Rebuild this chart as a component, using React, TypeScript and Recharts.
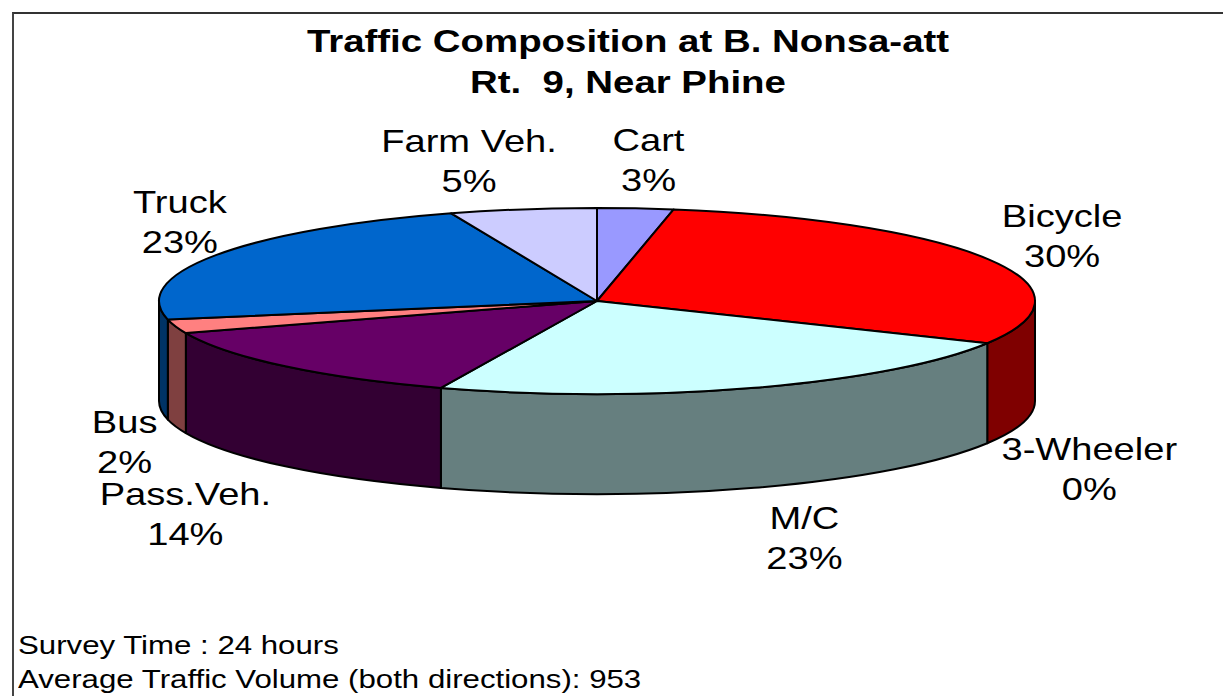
import React from 'react';
import { PieChart, Pie } from 'recharts';

const categories = ['Cart', 'Bicycle', '3-Wheeler', 'M/C', 'Pass.Veh.', 'Bus', 'Truck', 'Farm Veh.'];
const shares = [2.8, 29.7, 0, 23.3, 13.6, 2.4, 22.8, 5.4];
const colors = ['#9999FF', '#FF0000', '#FFFFCC', '#CCFFFF', '#660066', '#FF8080', '#0066CC', '#CCCCFF'];
const titleLines = ['Traffic Composition at B. Nonsa-att', 'Rt.  9, Near Phine'];
const noteLines = ['Survey Time : 24 hours', 'Average Traffic Volume (both directions): 953'];

const tableData = categories.map((name, i) => ({ name, value: shares[i], fill: colors[i] }));

const RX = 438;
const RY = 93;
const DEPTH = 100;
const FONT = '"Liberation Sans", Arial, sans-serif';

// nudge of each label from the middle of its slice rim
const labelNudge: Record<string, [number, number]> = {
  Cart: [13, -68],
  Bicycle: [73, -44],
  '3-Wheeler': [102, 106],
  'M/C': [50, 130],
  'Pass.Veh.': [-100, 128],
  Bus: [-51, 96],
  Truck: [-36, -53],
  'Farm Veh.': [-54, -68],
};

// half brightness, for the side wall
const darken = (hex: string): string => {
  const n = parseInt(hex.slice(1), 16);
  const part = (v: number) => Math.floor(v / 2).toString(16).padStart(2, '0');
  return `#${part((n >> 16) & 255)}${part((n >> 8) & 255)}${part(n & 255)}`;
};

// t is clockwise from the top of the ellipse, in radians
const rim = (cx: number, cy: number, t: number) => ({
  x: cx + RX * Math.sin(t),
  y: cy - RY * Math.cos(t),
});

const toT = (angle: number) => ((90 - angle) * Math.PI) / 180;

const Slice = (props: any) => {
  const { cx, cy, startAngle, endAngle, fill } = props;
  const t0 = toT(startAngle);
  const t1 = toT(endAngle);
  if (Math.abs(t1 - t0) < 1e-6) return null;
  const a = rim(cx, cy, t0);
  const b = rim(cx, cy, t1);
  const large = t1 - t0 > Math.PI ? 1 : 0;
  const top = `M${cx},${cy} L${a.x},${a.y} A${RX},${RY} 0 ${large} 1 ${b.x},${b.y} Z`;

  // only the front half of the disc shows a wall
  const w0 = Math.max(t0, Math.PI / 2);
  const w1 = Math.min(t1, (3 * Math.PI) / 2);
  let wall = null;
  if (w1 > w0) {
    const p = rim(cx, cy, w0);
    const q = rim(cx, cy, w1);
    wall = `M${p.x},${p.y} A${RX},${RY} 0 0 1 ${q.x},${q.y} L${q.x},${q.y + DEPTH} A${RX},${RY} 0 0 0 ${p.x},${p.y + DEPTH} Z`;
  }
  return (
    <g>
      {wall && <path d={wall} fill={darken(fill)} stroke="#000" strokeWidth={2} strokeLinejoin="round" />}
      <path d={top} fill={fill} stroke="#000" strokeWidth={2} strokeLinejoin="round" />
    </g>
  );
};

const SliceLabel = (props: any) => {
  const { cx, cy, midAngle, name, percent } = props;
  const p = rim(cx, cy, toT(midAngle));
  const [dx, dy] = labelNudge[name] || [0, 0];
  const x = p.x + dx;
  const y = p.y + dy;
  return (
    <g transform={`translate(${x},${y}) scale(1.19,1)`} fontFamily={FONT} fontSize={32} fill="#000" textAnchor="middle">
      <text x={0} y={11}>{name}</text>
      <text x={0} y={51}>{`${Math.round(percent * 100)}%`}</text>
    </g>
  );
};

const stretched = (scale: number): React.CSSProperties => ({
  position: 'absolute',
  whiteSpace: 'pre',
  fontFamily: FONT,
  color: '#000',
  transform: `scaleX(${scale})`,
});

export default function App() {
  return (
    <div style={{ position: 'absolute', left: 0, top: 0, width: 1223, height: 696, overflow: 'hidden', background: '#fff' }}>
      <div style={{ position: 'absolute', left: 12, top: 12, width: 1211, height: 684, borderLeft: '2px solid #444', borderTop: '2px solid #333', boxSizing: 'border-box' }} />
      <PieChart width={1223} height={696} margin={{ top: 0, right: 0, bottom: 0, left: 0 }} style={{ position: 'absolute', left: 0, top: 0 }}>
        <Pie
          data={tableData}
          dataKey="value"
          nameKey="name"
          cx={597}
          cy={301}
          outerRadius={RX}
          startAngle={90}
          endAngle={-270}
          paddingAngle={0}
          shape={Slice}
          label={SliceLabel}
          labelLine={false}
          isAnimationActive={false}
        />
      </PieChart>
      {titleLines.map((line, i) => (
        <div
          key={line}
          style={{
            ...stretched(1.2),
            left: 0,
            width: 1256,
            textAlign: 'center',
            top: 23 + i * 41,
            fontSize: 32,
            lineHeight: '37px',
            fontWeight: 700,
          }}
        >
          {line}
        </div>
      ))}
      {noteLines.map((line, i) => (
        <div
          key={line}
          style={{
            ...stretched(1.2),
            left: 18,
            transformOrigin: 'left center',
            top: 630 + i * 34,
            fontSize: 26,
            lineHeight: '30px',
          }}
        >
          {line}
        </div>
      ))}
    </div>
  );
}
